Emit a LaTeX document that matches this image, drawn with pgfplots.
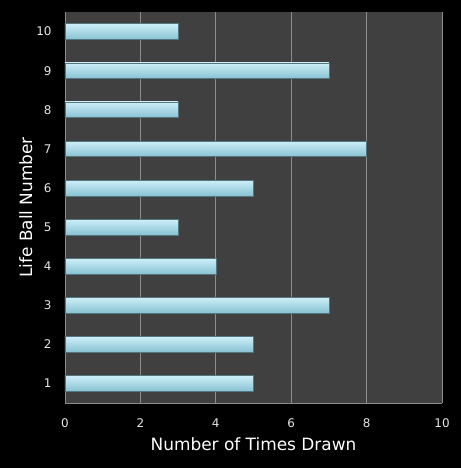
\documentclass[border=0pt]{standalone}
\usepackage{pgfplots}
\pgfplotsset{compat=1.18}
\usepackage{fontspec}
\setmainfont{DejaVu Sans}
\usetikzlibrary{backgrounds}

\definecolor{plotbg}{HTML}{404040}
\definecolor{gridc}{HTML}{8C8C8C}
\definecolor{ticktxt}{HTML}{E6E6E6}
\definecolor{bartop}{HTML}{CDEFF8}
\definecolor{barmid}{HTML}{A4DAEA}
\definecolor{barbot}{HTML}{88C2D2}
\definecolor{baredge}{HTML}{56767F}

\pgfplotsset{
    lifebar/.style={draw=baredge, line width=0.5pt, bar shift=0pt,
        top color=bartop, middle color=barmid, bottom color=barbot},
}

\begin{document}
\begin{tikzpicture}
\begin{axis}[
    name=ax,
    xbar,
    scale only axis,
    width=377bp, height=391bp,
    xmin=0, xmax=10,
    ymin=0.5, ymax=10.5,
    xtick={0,2,...,10},
    ytick={1,...,10},
    bar width=0.4,
    axis background/.style={fill=plotbg},
    axis x line*=bottom,
    axis y line*=left,
    axis line style={gridc},
    xmajorgrids,
    major grid style={gridc, line width=0.7pt},
    major tick length=0pt,
    tick label style={font=\fontsize{12}{14}\selectfont, text=ticktxt},
    /pgf/number format/assume math mode=true,
    xticklabel style={yshift=-12pt},
    yticklabel style={xshift=-10pt},
    xlabel={Number of Times Drawn},
    ylabel={Life Ball Number},
    label style={font=\fontsize{17}{20}\selectfont, text=white},
    xlabel style={yshift=-3pt},
    ylabel style={yshift=-3pt},
    clip=false,
]
\addplot[lifebar] coordinates {(5,1)};
\addplot[lifebar] coordinates {(5,2)};
\addplot[lifebar] coordinates {(7,3)};
\addplot[lifebar] coordinates {(4,4)};
\addplot[lifebar] coordinates {(3,5)};
\addplot[lifebar] coordinates {(5,6)};
\addplot[lifebar] coordinates {(8,7)};
\addplot[lifebar] coordinates {(3,8)};
\addplot[lifebar] coordinates {(7,9)};
\addplot[lifebar] coordinates {(3,10)};
\end{axis}
\begin{scope}[on background layer]
\fill[black] ([xshift=-65bp,yshift=-65bp]ax.south west) rectangle ([xshift=19bp,yshift=12bp]ax.north east);
\end{scope}
\end{tikzpicture}
\end{document}
